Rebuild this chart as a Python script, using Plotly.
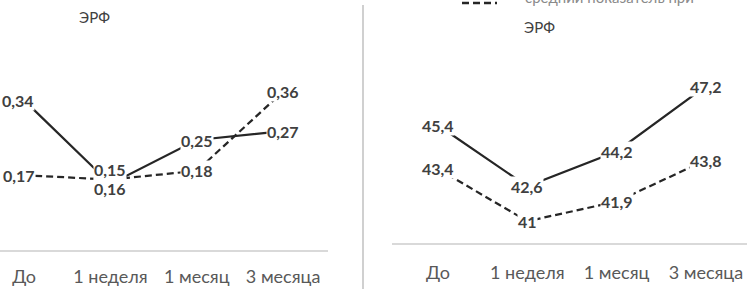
import plotly.graph_objects as go

# ---- data ----
categories = ["До", "1 неделя", "1 месяц", "3 месяца"]
left_solid = [0.34, 0.15, 0.25, 0.27]
left_dashed = [0.17, 0.16, 0.18, 0.36]
right_solid = [45.4, 42.6, 44.2, 47.2]
right_dashed = [43.4, 41.0, 41.9, 43.8]
legend_top_text = "средний показатель при"
legend_erf = "ЭРФ"

W, H = 747, 289
LINE = "#262626"
LABEL = "#404040"
FONT = "Lato"

def fmt(v):
    return ("%g" % v).replace(".", ",")

fig = go.Figure()

# left panel traces
fig.add_trace(go.Scatter(x=categories, y=left_solid, mode="lines",
                         line=dict(color=LINE, width=2.25), xaxis="x", yaxis="y",
                         showlegend=False, hoverinfo="skip"))
fig.add_trace(go.Scatter(x=categories, y=left_dashed, mode="lines",
                         line=dict(color=LINE, width=2.25, dash="7px,4px"), xaxis="x", yaxis="y",
                         showlegend=False, hoverinfo="skip"))
# right panel traces
fig.add_trace(go.Scatter(x=categories, y=right_solid, mode="lines",
                         line=dict(color=LINE, width=2.25), xaxis="x2", yaxis="y2",
                         showlegend=False, hoverinfo="skip"))
fig.add_trace(go.Scatter(x=categories, y=right_dashed, mode="lines",
                         line=dict(color=LINE, width=2.25, dash="7px,4px"), xaxis="x2", yaxis="y2",
                         showlegend=False, hoverinfo="skip"))

# label offsets (style only)
offsets = {
    ("L", "s", 0): (-6, 0), ("L", "s", 1): (0, 15),
    ("L", "d", 0): (-5, 0), ("L", "d", 1): (0, -9),
}

annotations = []
for panel, xr, yr, sol, das in [("L", "x", "y", left_solid, left_dashed),
                                 ("R", "x2", "y2", right_solid, right_dashed)]:
    for key, series in [("s", sol), ("d", das)]:
        for i, v in enumerate(series):
            dx, dy = offsets.get((panel, key, i), (0, 0))
            annotations.append(dict(
                x=categories[i], y=v, xref=xr, yref=yr, text=fmt(v), showarrow=False,
                xshift=dx, yshift=dy, bgcolor="white", borderpad=0,
                font=dict(family=FONT, size=16, color=LABEL, weight="bold")))

# legend fragments at the top
annotations.append(dict(x=77 / W, y=1 - 17 / H, xref="paper", yref="paper", xanchor="left",
                        yanchor="middle", text=legend_erf, showarrow=False,
                        font=dict(family=FONT, size=15, color=LABEL)))
annotations.append(dict(x=522 / W, y=1 - 27 / H, xref="paper", yref="paper", xanchor="left",
                        yanchor="middle", text=legend_erf, showarrow=False,
                        font=dict(family=FONT, size=15, color=LABEL)))
annotations.append(dict(x=523 / W, y=1 + 3 / H, xref="paper", yref="paper", xanchor="left",
                        yanchor="middle", text=legend_top_text, showarrow=False,
                        font=dict(family=FONT, size=15, color="#8a8a8a")))

shapes = [
    # divider between panels
    dict(type="line", xref="paper", yref="paper", x0=363 / W, x1=363 / W, y0=0, y1=1 - 5 / H,
         line=dict(color="#d0d0d0", width=2)),
    # dashed legend sample (cut at top)
    dict(type="line", xref="paper", yref="paper", x0=462 / W, x1=497 / W, y0=1 - 3 / H, y1=1 - 3 / H,
         line=dict(color=LINE, width=2.5, dash="7px,4px")),
]

axis_common = dict(showgrid=False, zeroline=False, showline=True, linecolor="#d9d9d9",
                   linewidth=1.5, ticks="outside", tickcolor="rgba(0,0,0,0)",
                   tickfont=dict(family=FONT, size=18, color="#595959"), fixedrange=True)

fig.update_layout(
    width=W, height=H,
    margin=dict(l=0, r=0, t=0, b=0),
    paper_bgcolor="white", plot_bgcolor="white",
    xaxis=dict(domain=[0, 328 / W], type="category", range=[-0.28, 3.52], anchor="y",
               ticklen=10, **axis_common),
    yaxis=dict(domain=[(H - 250) / H, (H - 74) / H], range=[0, 0.4], visible=False, anchor="x"),
    xaxis2=dict(domain=[392 / W, 1], type="category", range=[-0.515, 3.46], anchor="y2",
                ticklen=13, **axis_common),
    yaxis2=dict(domain=[(H - 243) / H, (H - 68.6) / H], range=[40, 48], visible=False, anchor="x2"),
    annotations=annotations,
    shapes=shapes,
)

fig.write_html("out.html", config={"displayModeBar": False},
               post_script="document.body.style.margin='0';document.body.style.padding='0';")
